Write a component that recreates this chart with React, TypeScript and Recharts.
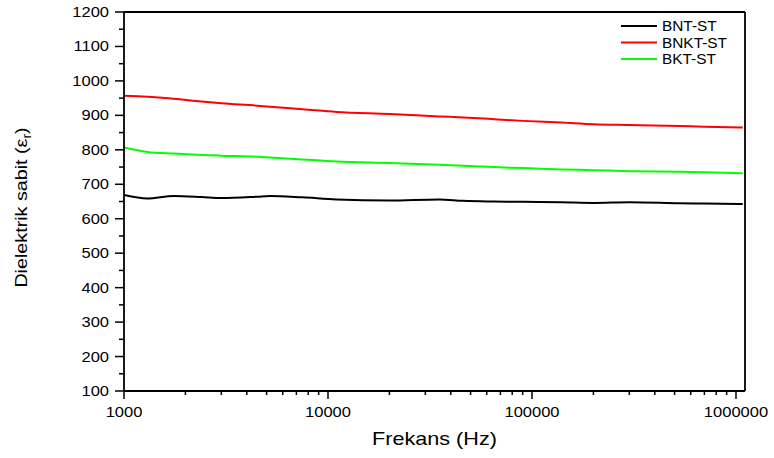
import React from "react";
import { LineChart, Line, XAxis, YAxis, ReferenceLine, Legend } from "recharts";

// frequency points (Hz)
const FREQUENCIES = [
  1000, 1300, 1750, 2400, 3000, 4500, 5200, 7500, 11000, 20000, 35000, 46000,
  65000, 90000, 140000, 200000, 300000, 530000, 700000, 1080000,
];

const BNT_ST = [
  669, 659, 666, 663, 660, 664, 666, 662, 656, 653, 656, 652, 650, 649, 648,
  646, 648, 645, 644, 643,
];

const BNKT_ST = [
  957, 954, 948, 940, 935, 928, 925, 918, 910, 904, 897, 894, 889, 884, 879,
  874, 872, 869, 867, 865,
];

const BKT_ST = [
  807, 794, 789, 785, 783, 780, 778, 772, 766, 762, 757, 754, 750, 747, 743,
  741, 738, 736, 735, 732,
];

const X_MAX = 1107000;

const X_TICKS = [
  1000, 2000, 3000, 4000, 5000, 6000, 7000, 8000, 9000,
  10000, 20000, 30000, 40000, 50000, 60000, 70000, 80000, 90000,
  100000, 200000, 300000, 400000, 500000, 600000, 700000, 800000, 900000,
  1000000,
];
const X_LABELS = [1000, 10000, 100000, 1000000];

const Y_TICKS = [
  100, 150, 200, 250, 300, 350, 400, 450, 500, 550, 600, 650, 700, 750, 800,
  850, 900, 950, 1000, 1050, 1100, 1150, 1200,
];
const Y_LABELS = [100, 200, 300, 400, 500, 600, 700, 800, 900, 1000, 1100, 1200];

const SERIES = [
  { key: "bnt", name: "BNT-ST", color: "#000000" },
  { key: "bnkt", name: "BNKT-ST", color: "#ff0000" },
  { key: "bkt", name: "BKT-ST", color: "#00ff00" },
];

const data = FREQUENCIES.map((f, i) => ({
  f,
  bnt: BNT_ST[i],
  bnkt: BNKT_ST[i],
  bkt: BKT_ST[i],
}));

const FONT = "'Liberation Sans', Arial, sans-serif";

const XTick = (props: any) => {
  const { x, y, payload } = props;
  const major = X_LABELS.includes(payload.value);
  return (
    <g>
      <line x1={x} x2={x} y1={y} y2={y + (major ? 8 : 4)} stroke="#000" strokeWidth={1.5} />
      {major && (
        <text
          transform={`translate(${x},${y + 26}) scale(1.18,1)`}
          textAnchor="middle"
          fontFamily={FONT}
          fontSize={14}
          fill="#000"
        >
          {payload.value}
        </text>
      )}
    </g>
  );
};

const YTick = (props: any) => {
  const { x, y, payload } = props;
  const major = Y_LABELS.includes(payload.value);
  return (
    <g>
      <line x1={x - (major ? 9 : 5)} x2={x} y1={y} y2={y} stroke="#000" strokeWidth={1.5} />
      {major && (
        <text
          transform={`translate(${x - 15},${y + 5}) scale(1.18,1)`}
          textAnchor="end"
          fontFamily={FONT}
          fontSize={14}
          fill="#000"
        >
          {payload.value}
        </text>
      )}
    </g>
  );
};

const XTitle = () => (
  <text
    transform="translate(434.5,445) scale(1.2,1)"
    textAnchor="middle"
    fontFamily={FONT}
    fontSize={18}
    fill="#000"
  >
    Frekans (Hz)
  </text>
);

const YTitle = () => (
  <text
    transform="translate(27,207.5) rotate(-90) scale(1.16,1)"
    textAnchor="middle"
    fontFamily={FONT}
    fontSize={17}
    fill="#000"
  >
    Dielektrik sabit (ε
    <tspan fontSize={12} dy={4}>r</tspan>
    <tspan dy={-4}>)</tspan>
  </text>
);

const LegendBox = () => (
  <svg width={140} height={60} style={{ display: "block" }}>
    {SERIES.map((s, i) => {
      const cy = 12 + i * 16.5;
      return (
        <g key={s.key}>
          <line x1={6} x2={42} y1={cy} y2={cy} stroke={s.color} strokeWidth={2} />
          <text
            transform={`translate(47,${cy + 5}) scale(1.1,1)`}
            fontFamily={FONT}
            fontSize={14}
            fill="#000"
          >
            {s.name}
          </text>
        </g>
      );
    })}
  </svg>
);

export default function App() {
  return (
    <div style={{ position: "absolute", left: 0, top: 0, width: 774, height: 458, background: "#fff" }}>
      <LineChart
        width={774}
        height={458}
        data={data}
        margin={{ top: 12, right: 29, left: 0, bottom: 0 }}
      >
        <XAxis
          dataKey="f"
          type="number"
          scale="log"
          domain={[1000, X_MAX]}
          allowDataOverflow
          ticks={X_TICKS}
          interval={0}
          tick={<XTick />}
          tickLine={false}
          tickSize={0}
          tickMargin={0}
          height={67}
          axisLine={{ stroke: "#000", strokeWidth: 1.8 }}
          label={{ content: () => <XTitle /> }}
        />
        <YAxis
          type="number"
          domain={[100, 1200]}
          allowDataOverflow
          ticks={Y_TICKS}
          interval={0}
          tick={<YTick />}
          tickLine={false}
          tickSize={0}
          tickMargin={0}
          width={124}
          axisLine={{ stroke: "#000", strokeWidth: 1.8 }}
          label={{ content: () => <YTitle /> }}
        />
        <ReferenceLine y={1200} stroke="#000" strokeWidth={1.8} />
        <ReferenceLine x={X_MAX} stroke="#000" strokeWidth={1.8} />
        <Legend
          layout="vertical"
          align="center"
          verticalAlign="middle"
          wrapperStyle={{ position: "absolute", left: 615, top: 14, width: 140 }}
          content={() => <LegendBox />}
        />
        {SERIES.map((s) => (
          <Line
            key={s.key}
            dataKey={s.key}
            name={s.name}
            type="monotone"
            stroke={s.color}
            strokeWidth={2}
            dot={false}
            activeDot={false}
            isAnimationActive={false}
          />
        ))}
      </LineChart>
    </div>
  );
}
